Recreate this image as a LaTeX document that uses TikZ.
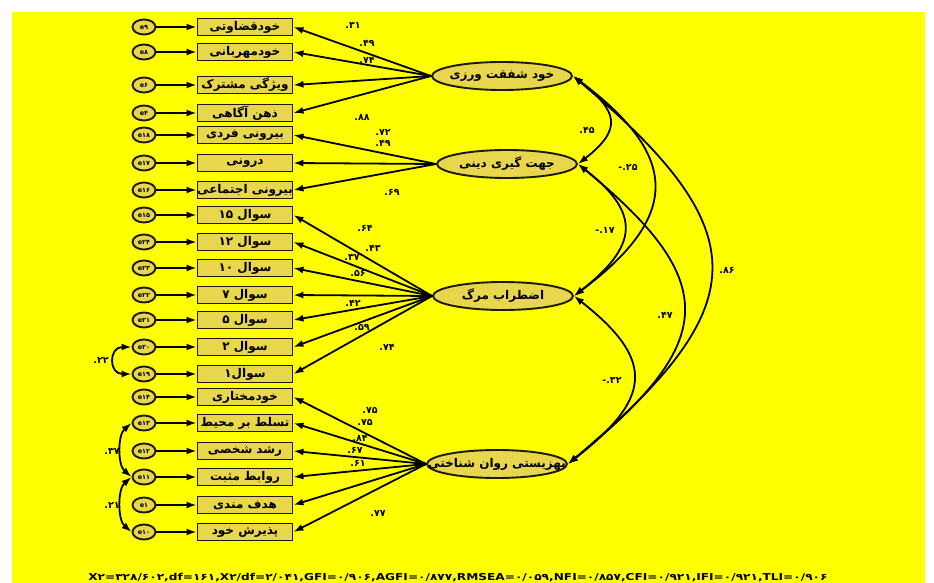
\documentclass[tikz,border=0pt]{standalone}
\usepackage{fontspec}
\usetikzlibrary{shapes.geometric,arrows.meta}
\TeXXeTstate=1
\newfontfamily\fa[Script=Arabic,BoldFont={DejaVu Sans Bold}]{DejaVu Sans}
\newfontfamily\fd[BoldFont={DejaVu Sans Bold}]{DejaVu Sans}
\newcommand\rl[1]{\makebox[0pt]{\beginR #1\endR}}
\definecolor{bg}{HTML}{FFFF00}
\definecolor{boxfill}{HTML}{E8D64C}
\definecolor{edge}{HTML}{1E1A08}
\tikzset{
  ind/.style={rectangle,draw=edge,line width=1.9pt,fill=boxfill,minimum width=95pt,
    minimum height=17pt,inner sep=0pt,font=\fa\bfseries\fontsize{12}{12}\selectfont},
  lat/.style={ellipse,draw=edge,line width=1.9pt,fill=boxfill,minimum width=140pt,
    minimum height=28pt,inner sep=0pt,font=\fa\bfseries\fontsize{12}{12}\selectfont},
  err/.style={ellipse,draw=edge,line width=1.9pt,fill=boxfill,minimum width=23pt,
    minimum height=15pt,inner sep=0pt,font=\fd\bfseries\fontsize{6.5}{6.5}\selectfont},
  tip/.tip={Latex[length=10pt,width=7pt]},
  reg/.style={-tip,line width=1.8pt,black},
  cov/.style={tip-tip,line width=1.8pt,black},
  ld/.style={font=\fd\bfseries\fontsize{9.5}{9.5}\selectfont,inner sep=0pt},
}
\begin{document}
\begin{tikzpicture}[x=1pt,y=-1pt]
\useasboundingbox (0,0) rectangle (934,583);
\begin{scope}
\clip (0,0) rectangle (934,583);
\fill[white] (0,0) rectangle (934,583);
\fill[bg] (12,12) rectangle (925,583);

% latent variables
\node[lat] (f1) at (502,76) {\rl{خود شفقت ورزی}};
\node[lat] (f2) at (507,164) {\rl{جهت گیری دینی}};
\node[lat] (f3) at (503,296) {\rl{اضطراب مرگ}};
\node[lat] (f4) at (497,464) {\rl{بهزیستی روان شناختی}};

% indicators and their error terms
\foreach \n/\y/\lab/\e in {
  1/27/خودقضاوتی/۹, 2/52/خودمهربانی/۸, 3/85/ویژگی مشترک/۶, 4/113/ذهن آگاهی/۴,
  5/135/بیرونی فردی/۱۸, 6/163/درونی/۱۷, 7/190/بیرونی اجتماعی/۱۶,
  8/215/سوال ۱۵/۱۵, 9/242/سوال ۱۲/۲۴, 10/268/سوال ۱۰/۲۳, 11/295/سوال ۷/۲۲,
  12/320/سوال ۵/۲۱, 13/347/سوال ۲/۲۰, 14/374/سوال۱/۱۹,
  15/397/خودمختاری/۱۴, 16/423/تسلط بر محیط/۱۳, 17/451/رشد شخصی/۱۲,
  18/477/روابط مثبت/۱۱, 19/505/هدف مندی/۱, 20/532/پذیرش خود/۱۰}{
  \node[ind] (i\n) at (245,\y) {\rl{\lab}};
  \node[err] (e\n) at (144,\y) {e\e};
  \draw[reg] (e\n) -- (i\n);
}

% factor loadings
\foreach \n in {1,...,4}{\draw[reg] (f1.west) -- (i\n.east);}
\foreach \n in {5,...,7}{\draw[reg] (f2.west) -- (i\n.east);}
\foreach \n in {8,...,14}{\draw[reg] (f3.west) -- (i\n.east);}
\foreach \n in {15,...,20}{\draw[reg] (f4.west) -- (i\n.east);}

\foreach \x/\y/\v in {
  353/25/.۳۱, 367/43/.۴۹, 367/60/.۷۴, 362/117/.۸۸,
  383/132/.۷۲, 383/143/.۴۹, 392/192/.۶۹,
  365/228/.۶۴, 373/248/.۴۳, 352/257/.۳۷, 358/273/.۵۶, 353/303/.۴۲, 362/327/.۵۹, 387/347/.۷۴,
  370/410/.۷۵, 365/422/.۷۵, 360/438/.۸۴, 355/450/.۶۷, 358/463/.۶۱, 378/513/.۷۷}{
  \node[ld] at (\x,\y) {\v};
}

% correlations between latent variables
\draw[cov] (f1.east) .. controls +(45,35) and +(45,-35) .. (f2.east);
\draw[cov] (f1.east) .. controls +(107,80) and +(107,-80) .. (f3.east);
\draw[cov] (f2.east) .. controls +(64,50) and +(64,-50) .. (f3.east);
\draw[cov] (f1.east) .. controls +(187,157) and +(187,-157) .. (f4.east);
\draw[cov] (f2.east) .. controls +(147,120) and +(147,-120) .. (f4.east);
\draw[cov] (f3.east) .. controls +(83,65) and +(83,-65) .. (f4.east);

\node[ld] at (587,130) {.۴۵};
\node[ld] at (628,167) {-.۲۵};
\node[ld] at (605,230) {-.۱۷};
\node[ld] at (727,270) {.۸۶};
\node[ld] at (665,315) {.۴۷};
\node[ld] at (612,380) {-.۳۲};

% correlated errors
\draw[cov] (e13.west) .. controls +(-23,0) and +(-23,0) .. (e14.west);
\draw[cov] (e16.west) .. controls +(-14,12) and +(-14,-12) .. (e18.west);
\draw[cov] (e18.west) .. controls +(-14,12) and +(-14,-12) .. (e20.west);
\node[ld] at (101,360) {.۲۲};
\node[ld] at (112,451) {.۳۷};
\node[ld] at (112,505) {.۲۱};

% fit indices
\node[anchor=south,inner sep=0pt,font=\fd\bfseries\fontsize{9.5}{9.5}\selectfont] (fit) at (458,582)
  {\scalebox{1.28}[1]{X۲=۳۲۸/۶۰۲,df=۱۶۱,X۲/df=۲/۰۴۱,GFI=۰/۹۰۶,AGFI=۰/۸۷۷,RMSEA=۰/۰۵۹,NFI=۰/۸۵۷,CFI=۰/۹۲۱,IFI=۰/۹۲۱,TLI=۰/۹۰۶}};
\end{scope}
\end{tikzpicture}
\end{document}
